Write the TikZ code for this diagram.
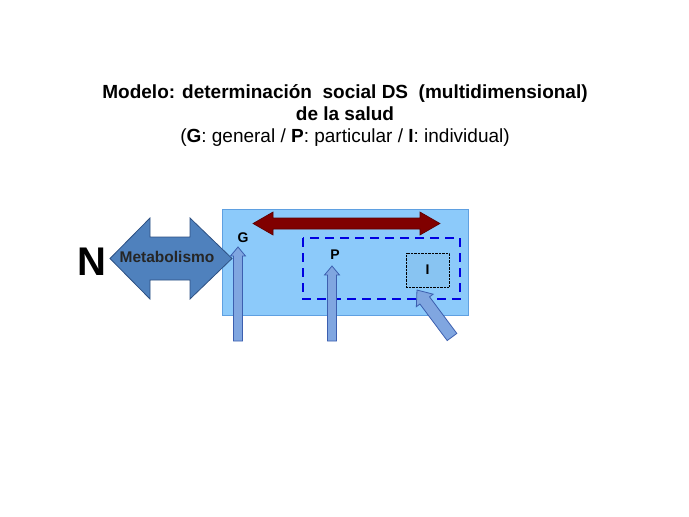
\documentclass[tikz,border=0pt]{standalone}
\usepackage{fontspec}
\setmainfont{Liberation Sans}
\usetikzlibrary{positioning}
\definecolor{celeste}{RGB}{140,202,250}
\definecolor{bordeceleste}{RGB}{95,160,225}
\definecolor{azulacero}{RGB}{79,129,189}
\definecolor{azulborde}{RGB}{45,80,130}
\definecolor{azulclaro}{RGB}{128,166,224}
\definecolor{azulfleborde}{RGB}{60,95,175}
\definecolor{rojooscuro}{RGB}{128,0,0}
\definecolor{azuldash}{RGB}{0,0,225}
% flecha simple: origen, angulo, largo, medio ancho cuerpo, medio ancho punta, largo punta
\newcommand{\flechasimple}[6]{%
  \begin{scope}[shift={#1},rotate=#2]
    \draw[flechita] (0,-#4)--(#3-#6,-#4)--(#3-#6,-#5)--(#3,0)--(#3-#6,#5)
      --(#3-#6,#4)--(0,#4)--cycle;
  \end{scope}}
\begin{document}
\begin{tikzpicture}[x=1pt,y=-1pt,
  etiqueta/.style={font=\bfseries\fontsize{14}{16}\selectfont,inner sep=1pt},
  flechita/.style={fill=azulclaro,draw=azulfleborde,line width=0.8pt}]
\useasboundingbox (0,0) rectangle (689,517);

% titulo
\node[align=center,font=\fontsize{19}{22}\selectfont] (titulo) at (345,116)
  {\textbf{Modelo: determinación\ \ social DS\ \ (multidimensional)}\\
   \textbf{de la salud}\\
   (\textbf{G}: general / \textbf{P}: particular / \textbf{I}: individual)};

% caja general
\draw[fill=celeste,draw=bordeceleste,line width=0.8pt] (222,209) rectangle (468,315);
\draw[fill=rojooscuro,draw=rojooscuro!70!black,line width=0.6pt]
  (253,223.5)--(273,212)--(273,218)--(420,218)--(420,212)--(440,223.5)
  --(420,235)--(420,229)--(273,229)--(273,235)--cycle;
\draw[azuldash,line width=2.6pt,dash pattern=on 9pt off 6pt] (303,238) rectangle (460,299);
\node[draw,densely dotted,thin,minimum width=43pt,minimum height=34pt,
  fill=celeste!97!black] (ind) at (427.5,270) {};
\node[etiqueta] at (ind) {I};

% metabolismo
\draw[fill=azulacero,draw=azulborde,line width=0.8pt]
  (110,258.5)--(150,218)--(150,237)--(190,237)--(190,218)--(232,258.5)
  --(190,299)--(190,280)--(150,280)--(150,299)--cycle;
\node[font=\bfseries\fontsize{15.5}{17}\selectfont,text=black!85] (meta) at (167,257) {Metabolismo};
\node[font=\bfseries\fontsize{40}{44}\selectfont] (N) at (92,262) {N};

% niveles
\node[etiqueta] (G) at (243,238) {G};
\node[etiqueta] (P) at (335,255) {P};
\flechasimple{(238,341)}{90}{94}{4.5}{7.5}{9}
\flechasimple{(332,341)}{90}{75}{4.5}{7.5}{9}
\flechasimple{(452,337)}{126.7}{58.6}{6}{10.5}{13}
\end{tikzpicture}
\end{document}
